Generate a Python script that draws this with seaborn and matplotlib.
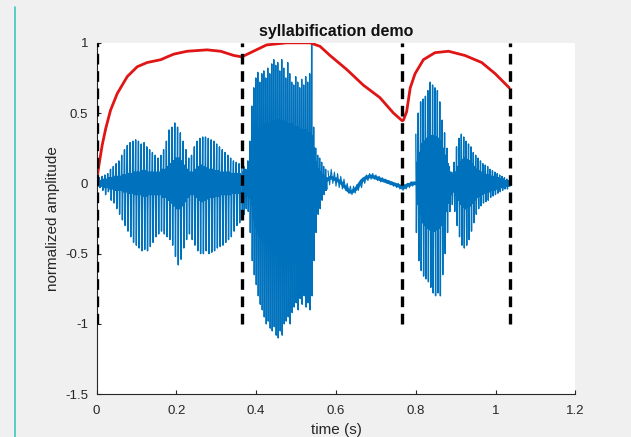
import numpy as np
import pandas as pd
import matplotlib
matplotlib.use("Agg")
import matplotlib.pyplot as plt
from matplotlib.lines import Line2D
import seaborn as sns

# ---------------- data ----------------
# syllable 1 : start 0.0 s, pitch period 0.007 s
syl1_start, syl1_period = 0.0, 0.007
syl1_hi = [0.03, 0.04, 0.05, 0.06, 0.07, 0.10, 0.12, 0.14, 0.16, 0.20, 0.24, 0.27, 0.29,
           0.30, 0.31, 0.30, 0.28, 0.29, 0.26, 0.24, 0.22, 0.20, 0.18, 0.20, 0.24, 0.30,
           0.38, 0.40, 0.43, 0.40, 0.36, 0.30, 0.24, 0.18, 0.20, 0.26, 0.30, 0.32, 0.33,
           0.33, 0.32, 0.31, 0.30, 0.28, 0.26, 0.24, 0.22, 0.20, 0.18, 0.16, 0.15, 0.14]
syl1_lo = [-0.02, -0.03, -0.05, -0.08, -0.06, -0.12, -0.14, -0.18, -0.22, -0.26, -0.30,
           -0.34, -0.38, -0.42, -0.44, -0.46, -0.48, -0.47, -0.48, -0.45, -0.42, -0.38,
           -0.36, -0.34, -0.36, -0.38, -0.40, -0.44, -0.52, -0.58, -0.54, -0.46, -0.40,
           -0.36, -0.40, -0.44, -0.48, -0.50, -0.50, -0.48, -0.50, -0.49, -0.48, -0.46,
           -0.45, -0.44, -0.42, -0.40, -0.38, -0.34, -0.30, -0.28]
syl1_core = [0.02, 0.02, 0.03, 0.03, 0.04, 0.04, 0.05, 0.05, 0.05, 0.06, 0.06, 0.07, 0.07,
             0.08, 0.08, 0.08, 0.09, 0.09, 0.08, 0.08, 0.08, 0.08, 0.08, 0.10, 0.10, 0.12,
             0.14, 0.16, 0.18, 0.18, 0.16, 0.13, 0.10, 0.08, 0.08, 0.10, 0.12, 0.13, 0.12,
             0.11, 0.10, 0.10, 0.09, 0.09, 0.08, 0.08, 0.08, 0.08, 0.07, 0.07, 0.07, 0.07]

# syllable 2 : start 0.364 s, pitch period 0.005 s
syl2_start, syl2_period = 0.364, 0.005
syl2_hi = [0.15, 0.12, 0.10, 0.16, 0.30, 0.55, 0.68, 0.75, 0.79, 0.72, 0.78, 0.80, 0.75,
           0.82, 0.78, 0.85, 0.88, 0.84, 0.86, 0.80, 0.88, 0.82, 0.75, 0.86, 0.78, 0.72,
           0.70, 0.76, 0.72, 0.68, 0.74, 0.70, 0.76, 0.72, 0.78, 1.00, 0.40, 0.25, 0.20,
           0.18, 0.15, 0.12, 0.10]
syl2_lo = [-0.25, -0.22, -0.18, -0.20, -0.35, -0.55, -0.65, -0.72, -0.80, -0.86, -0.90,
           -0.95, -1.00, -0.98, -1.03, -1.05, -1.02, -1.08, -1.10, -1.05, -1.08, -1.00,
           -0.98, -0.95, -1.00, -0.92, -0.88, -0.85, -0.90, -0.82, -0.86, -0.80, -0.88,
           -0.85, -0.90, -0.80, -0.55, -0.35, -0.22, -0.18, -0.12, -0.08, -0.05]
syl2_core = [0.08, 0.08, 0.08, 0.10, 0.15, 0.25, 0.30, 0.35, 0.38, 0.40, 0.40, 0.42, 0.42,
             0.43, 0.43, 0.44, 0.44, 0.45, 0.45, 0.45, 0.44, 0.44, 0.43, 0.42, 0.42, 0.42,
             0.40, 0.40, 0.40, 0.38, 0.38, 0.38, 0.38, 0.36, 0.36, 0.34, 0.25, 0.15, 0.10,
             0.08, 0.06, 0.05, 0.04]

# quiet stretch between syllables: band centre (step 0.005 s) and its ripple (step 0.004 s)
gap_start, gap_step = 0.575, 0.005
gap_center = [0.02, 0.03, 0.04, 0.04, 0.03, 0.03, 0.02, 0.01, 0.00, -0.02, -0.03, -0.05,
              -0.06, -0.06, -0.05, -0.04, -0.02, 0.00, 0.02, 0.03, 0.04, 0.045, 0.05, 0.05,
              0.045, 0.04, 0.035, 0.03, 0.025, 0.02, 0.015, 0.01, 0.005, 0.0, -0.005, -0.01,
              -0.015, -0.02, -0.03, -0.03, -0.02, -0.01, -0.01, 0.0, 0.0, 0.0]
ripple_start, ripple_step = 0.58, 0.004
gap_ripple = [0.09, -0.01, 0.10, 0.00, 0.08, -0.02, 0.07, -0.03, 0.05, -0.04, 0.03, -0.05,
              0.0, -0.07, -0.02, -0.08, -0.02, -0.07, -0.01, -0.05, 0.01, -0.03, 0.04, 0.0,
              0.06, 0.02, 0.07, 0.03, 0.07, 0.03, 0.06, 0.02, 0.05, 0.01, 0.04, 0.01, 0.03,
              0.0, 0.02, -0.01, 0.01, -0.02, 0.0, -0.03, 0.0, -0.04, -0.01, -0.05, -0.01,
              -0.04, 0.0, -0.03, 0.01, -0.02, 0.01]

# syllable 3 : start 0.80 s, pitch period 0.006 s
syl3_start, syl3_period = 0.80, 0.006
syl3_hi = [0.35, 0.50, 0.58, 0.60, 0.62, 0.66, 0.72, 0.70, 0.68, 0.66, 0.58, 0.45, 0.36,
           0.25, 0.12, 0.08, 0.15, 0.26, 0.32, 0.35, 0.33, 0.30, 0.28, 0.26, 0.22, 0.20,
           0.18, 0.16, 0.14, 0.13, 0.12, 0.10, 0.09, 0.08, 0.07, 0.06, 0.05, 0.04, 0.03, 0.02]
syl3_lo = [-0.35, -0.55, -0.62, -0.66, -0.68, -0.70, -0.74, -0.78, -0.80, -0.78, -0.80,
           -0.65, -0.50, -0.35, -0.20, -0.15, -0.20, -0.30, -0.38, -0.44, -0.46, -0.44,
           -0.40, -0.34, -0.28, -0.22, -0.18, -0.16, -0.14, -0.13, -0.12, -0.10, -0.09,
           -0.08, -0.07, -0.06, -0.05, -0.04, -0.04, -0.02]
syl3_core = [0.15, 0.22, 0.28, 0.30, 0.32, 0.33, 0.34, 0.34, 0.33, 0.32, 0.30, 0.25, 0.20,
             0.14, 0.08, 0.06, 0.08, 0.12, 0.15, 0.17, 0.18, 0.17, 0.16, 0.14, 0.12, 0.10,
             0.09, 0.08, 0.07, 0.06, 0.06, 0.05, 0.05, 0.04, 0.04, 0.03, 0.03, 0.02, 0.02, 0.01]

# red envelope curve
env_t = [0.0, 0.006, 0.014, 0.023, 0.035, 0.052, 0.077, 0.102, 0.127, 0.161, 0.177,
         0.194, 0.227, 0.277, 0.311, 0.344, 0.364, 0.393, 0.426, 0.476, 0.535, 0.56,
         0.585, 0.627, 0.668, 0.71, 0.744, 0.766, 0.769, 0.777, 0.786, 0.798, 0.819,
         0.848, 0.882, 0.923, 0.965, 0.999, 1.034]
env_v = [0.014, 0.13, 0.27, 0.39, 0.52, 0.64, 0.76, 0.83, 0.86, 0.88, 0.90,
         0.92, 0.94, 0.95, 0.94, 0.91, 0.90, 0.94, 0.985, 1.0, 1.0, 0.975,
         0.91, 0.81, 0.70, 0.61, 0.50, 0.445, 0.45, 0.51, 0.68, 0.78, 0.88,
         0.93, 0.94, 0.91, 0.86, 0.78, 0.68]

# syllable boundaries
bounds = [0.0, 0.364, 0.766, 1.035]
bound_lo, bound_hi = -1.0, 1.0

title = "syllabification demo"
xlabel = "time (s)"
ylabel = "normalized amplitude"
xticks = [0, 0.2, 0.4, 0.6, 0.8, 1.0, 1.2]
xticklabels = ["0", "0.2", "0.4", "0.6", "0.8", "1", "1.2"]
yticks = [-1.5, -1.0, -0.5, 0.0, 0.5, 1.0]
yticklabels = ["-1.5", "-1", "-0.5", "0", "0.5", "1"]


# ---------------- build the waveform vertex tables ----------------
def voiced(start, period, hi, lo, core):
    ts, vs = [], []
    for k in range(len(hi)):
        t0 = start + k * period
        ts += [t0, t0 + period * 0.25, t0 + period * 0.5, t0 + period * 0.75]
        vs += [hi[k], lo[k], core[k], -core[k]]
    return ts, vs


parts = [voiced(syl1_start, syl1_period, syl1_hi, syl1_lo, syl1_core),
         voiced(syl2_start, syl2_period, syl2_hi, syl2_lo, syl2_core),
         voiced(syl3_start, syl3_period, syl3_hi, syl3_lo, syl3_core)]
waves = [pd.DataFrame({"t": ts, "amp": vs}) for ts, vs in parts]
gap = pd.DataFrame({"t": [gap_start + i * gap_step for i in range(len(gap_center))],
                    "amp": gap_center})
ripple = pd.DataFrame({"t": [ripple_start + i * ripple_step for i in range(len(gap_ripple))],
                       "amp": gap_ripple})
env = pd.DataFrame({"t": env_t, "v": env_v})

# ---------------- style ----------------
sns.set_style("white")
plt.rcParams["font.family"] = ["Liberation Sans", "DejaVu Sans"]
plt.rcParams["axes.edgecolor"] = "#262626"
plt.rcParams["xtick.color"] = "#262626"
plt.rcParams["ytick.color"] = "#262626"

fig = plt.figure(figsize=(6.31, 4.37), dpi=100, facecolor="#f0f0f0")
ax = fig.add_axes([0.153, 0.098, 0.759, 0.804])
ax.set_facecolor("white")

blue = "#0072BD"
sns.lineplot(data=gap, x="t", y="amp", sort=False, estimator=None,
             color=blue, linewidth=2.6, ax=ax)
sns.lineplot(data=ripple, x="t", y="amp", sort=False, estimator=None,
             color=blue, linewidth=0.8, ax=ax)
for w in waves:
    sns.lineplot(data=w, x="t", y="amp", sort=False, estimator=None,
                 color=blue, linewidth=1.0, ax=ax)
sns.lineplot(data=env, x="t", y="v", sort=False, estimator=None,
             color="#e01515", linewidth=2.0, ax=ax)
ax.vlines(bounds, bound_lo, bound_hi, colors="black", linestyles=(0, (3.2, 2.0)),
          linewidth=2.4, zorder=5)

ax.set_xlim(xticks[0], xticks[-1])
ax.set_ylim(yticks[0], yticks[-1])
ax.set_xticks(xticks)
ax.set_xticklabels(xticklabels)
ax.set_yticks(yticks)
ax.set_yticklabels(yticklabels)
ax.tick_params(direction="in", length=3, width=0.8, labelsize=9.5,
               bottom=True, left=True)
ax.tick_params(axis="y", pad=6)
ax.tick_params(axis="x", pad=8)
for s in ["top", "right"]:
    ax.spines[s].set_visible(False)
for s in ["left", "bottom"]:
    ax.spines[s].set_linewidth(0.8)
    ax.spines[s].set_color("#262626")

ax.set_xlabel(xlabel, fontsize=11, color="#262626", labelpad=4)
ax.set_ylabel(ylabel, fontsize=11, color="#262626", labelpad=4)
ax.set_title(title, fontsize=11.5, fontweight="bold", color="#111111", pad=5)

# teal window edge at the left of the screenshot
fig.add_artist(Line2D([15 / 631, 15 / 631], [0, 0.985], transform=fig.transFigure,
                      color="#3cc7c0", linewidth=1.2))

fig.savefig("out.png", dpi=100, facecolor=fig.get_facecolor())
